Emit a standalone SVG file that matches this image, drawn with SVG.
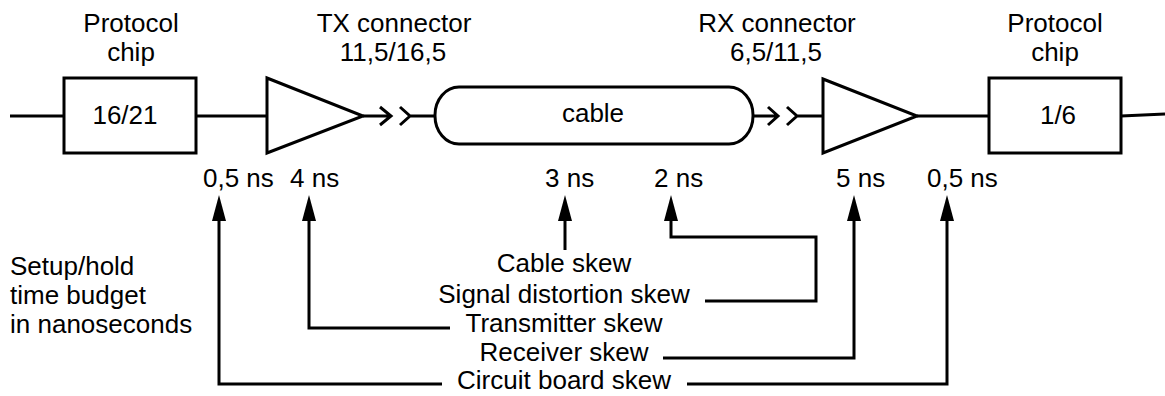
<svg xmlns="http://www.w3.org/2000/svg" width="1165" height="396" viewBox="0 0 1165 396">
  <style>
    text { font-family: "Liberation Sans", Arial, sans-serif; font-size: 26px; fill: #000; }
    .c { text-anchor: middle; }
    .s { fill: none; stroke: #000; stroke-width: 3; stroke-linejoin: miter; }
    .w { fill: #fff; stroke: #000; stroke-width: 3; }
  </style>
  <defs>
    <marker id="head" viewBox="0 0 26 14" refX="16" refY="7" markerWidth="26" markerHeight="14" markerUnits="userSpaceOnUse" orient="auto">
      <path d="M0,0 L26,7 L0,14 Z" fill="#000"/>
    </marker>
  </defs>
  <rect width="1165" height="396" fill="#fff"/>

  <g id="signal-path">
    <path class="s" d="M10,116 H64"/>
    <path class="s" d="M196,116 H267"/>
    <path class="s" d="M363,116 H391 M380,107 L391,116 L380,125"/>
    <path class="s" d="M400,107 L410,116 L400,125 M410,116 H435"/>
    <path class="s" d="M753,116 H778 M768,107 L778,116 L768,125"/>
    <path class="s" d="M787,107 L797,116 L787,125 M797,116 H823"/>
    <path class="s" d="M917,116 H989"/>
    <path class="s" d="M1121,116 L1165,114"/>
  </g>

  <g id="chip-left">
    <rect class="w" x="64" y="78" width="132" height="75"/>
    <text class="c" x="125" y="124">16/21</text>
    <text class="c" x="131" y="32">Protocol</text>
    <text class="c" x="131" y="61">chip</text>
  </g>

  <g id="tx-connector">
    <path class="w" d="M267,78 L363,116 L267,153 Z"/>
    <text class="c" x="394" y="32">TX connector</text>
    <text class="c" x="393" y="61">11,5/16,5</text>
  </g>

  <g id="cable">
    <rect class="w" x="435" y="87" width="318" height="57" rx="24" ry="28"/>
    <text class="c" x="593" y="122">cable</text>
  </g>

  <g id="rx-connector">
    <path class="w" d="M823,79 L917,116 L823,153 Z"/>
    <text class="c" x="777" y="32">RX connector</text>
    <text class="c" x="776" y="61">6,5/11,5</text>
  </g>

  <g id="chip-right">
    <rect class="w" x="989" y="78" width="132" height="75"/>
    <text class="c" x="1058" y="124">1/6</text>
    <text class="c" x="1055" y="32">Protocol</text>
    <text class="c" x="1055" y="61">chip</text>
  </g>

  <g id="budget-values">
    <text x="203" y="187">0,5 ns</text>
    <text x="290" y="187">4 ns</text>
    <text x="545" y="187">3 ns</text>
    <text x="654" y="187">2 ns</text>
    <text x="836" y="187">5 ns</text>
    <text x="927" y="187">0,5 ns</text>
  </g>

  <g id="legend">
    <text x="10" y="275">Setup/hold</text>
    <text x="10" y="304">time budget</text>
    <text x="10" y="333">in nanoseconds</text>
  </g>

  <g id="skew-labels">
    <text class="c" x="564" y="272">Cable skew</text>
    <text class="c" x="564" y="303">Signal distortion skew</text>
    <text class="c" x="564" y="332">Transmitter skew</text>
    <text class="c" x="564" y="361">Receiver skew</text>
    <text class="c" x="564" y="389">Circuit board skew</text>
  </g>

  <g id="connectors">
    <path class="s" marker-end="url(#head)" d="M442,384 H219 V205"/>
    <path class="s" marker-end="url(#head)" d="M450,328 H309 V205"/>
    <path class="s" marker-end="url(#head)" d="M565,250 V205"/>
    <path class="s" marker-end="url(#head)" d="M705,301 H816 V237 H671 V205"/>
    <path class="s" marker-end="url(#head)" d="M663,358 H854 V205"/>
    <path class="s" marker-end="url(#head)" d="M687,384 H947 V205"/>
  </g>
</svg>
